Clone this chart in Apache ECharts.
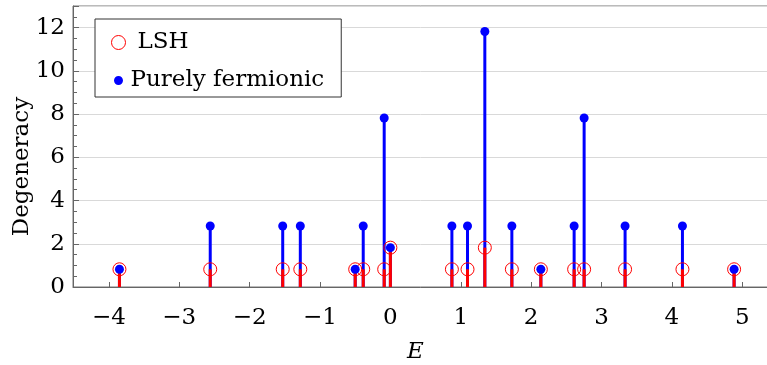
<!DOCTYPE html>
<html>
<head>
<meta charset="utf-8">
<script src="https://cdn.jsdelivr.net/npm/echarts@6/dist/echarts.min.js"></script>
<style>html,body{margin:0;padding:0;background:#fff}#c{width:767px;height:365px}</style>
</head>
<body>
<div id="c"></div>
<script>
var energies = [-3.85, -2.56, -1.53, -1.28, -0.50, -0.386, -0.088, 0.00, 0.874, 1.096, 1.342, 1.726, 2.138, 2.611, 2.753, 3.335, 4.15, 4.884];
var fermionic = [0.82, 2.82, 2.82, 2.82, 0.82, 2.82, 7.82, 1.82, 2.82, 2.82, 11.82, 2.82, 0.82, 2.82, 7.82, 2.82, 2.82, 0.82];
var lsh = [0.82, 0.82, 0.82, 0.82, 0.82, 0.82, 0.82, 1.82, 0.82, 0.82, 1.82, 0.82, 0.82, 0.82, 0.82, 0.82, 0.82, 0.82];
var xTicks = [-4, -3, -2, -1, 0, 1, 2, 3, 4, 5];
var yTickLabels = [0, 2, 4, 6, 8, 10, 12];

var FONT = 'DejaVu Serif';
var ferData = energies.map(function (e, i) { return [e, fermionic[i]]; });
var lshData = energies.map(function (e, i) { return [e, lsh[i]]; });

function stem(color) {
  return function (params, api) {
    var x = api.value(0), y = api.value(1);
    var p0 = api.coord([x, 0]);
    var p1 = api.coord([x, y]);
    return {
      type: 'line',
      shape: { x1: p0[0], y1: p0[1], x2: p1[0], y2: p1[1] },
      style: { stroke: color, lineWidth: 3 }
    };
  };
}

var chart = echarts.init(document.getElementById('c'), null, { renderer: 'canvas' });
chart.setOption({
  animation: false,
  backgroundColor: '#fff',
  textStyle: { fontFamily: FONT },
  grid: { left: 73, right: -2, top: 6, bottom: 78, containLabel: false, outerBoundsMode: 'none',
          show: true, borderColor: '#777', borderWidth: 1, backgroundColor: 'transparent' },
  legend: {
    left: 95, top: 19, orient: 'vertical',
    backgroundColor: '#fff', borderColor: '#333', borderWidth: 1, borderRadius: 0,
    padding: [12, 17, 5, 16],
    itemWidth: 14, itemHeight: 14, itemGap: 15,
    textStyle: { fontFamily: FONT, fontSize: 23, color: '#000', lineHeight: 23 },
    data: [
      { name: 'LSH', icon: 'circle', itemStyle: { color: 'rgba(0,0,0,0)', borderColor: '#ff0000', borderWidth: 1 },
        textStyle: { padding: [0, 0, 0, 7] } },
      { name: 'Purely fermionic', icon: 'path://M0,0L0.001,0ZM14,14L13.999,14ZM7,2.5C9.485,2.5,11.5,4.515,11.5,7C11.5,9.485,9.485,11.5,7,11.5C4.515,11.5,2.5,9.485,2.5,7C2.5,4.515,4.515,2.5,7,2.5Z',
        itemStyle: { color: '#0000ff', borderWidth: 0 } }
    ]
  },
  xAxis: {
    type: 'value', min: -4.51, max: 5.38,
    name: 'E', nameLocation: 'middle', nameGap: 54, nameMoveOverlap: false,
    nameTextStyle: { fontFamily: FONT, fontSize: 23, fontStyle: 'italic', color: '#000', padding: [0, 11, 0, 0] },
    axisLine: { show: true, onZero: false, lineStyle: { color: '#666', width: 1 } },
    axisTick: { show: true, inside: true, length: 5, customValues: xTicks, lineStyle: { color: '#666' } },
    axisLabel: { customValues: xTicks, margin: 20, fontFamily: FONT, fontSize: 23, color: '#000',
      formatter: function (v) { return v < 0 ? '\u2212' + Math.abs(v) : String(v); } },
    splitLine: { show: false }
  },
  yAxis: [
    {
      type: 'value', min: 0, max: 13, interval: 2, position: 'left',
      name: 'Degeneracy', nameLocation: 'middle', nameRotate: 90, nameGap: 39, nameMoveOverlap: false,
      nameTextStyle: { fontFamily: FONT, fontSize: 23, color: '#000', padding: [0, 40, 0, 0] },
      axisLine: { show: true, onZero: false, lineStyle: { color: '#666', width: 1 } },
      axisTick: { show: true, inside: true, length: 6, lineStyle: { color: '#666' } },
      axisLabel: { customValues: yTickLabels, margin: 8, fontFamily: FONT, fontSize: 23, color: '#000' },
      splitLine: { show: true, lineStyle: { color: '#d9d9d9', width: 1 } }
    },
    {
      type: 'value', min: 0, max: 13, interval: 0.5, position: 'left',
      axisLine: { show: false, onZero: false },
      axisTick: { show: true, inside: true, length: 4, lineStyle: { color: '#666' } },
      axisLabel: { show: false },
      splitLine: { show: false }
    }
  ],
  series: [
    { type: 'custom', name: 'fstem', renderItem: stem('#0000ff'), data: ferData, silent: true, z: 2 },
    { type: 'custom', name: 'lstem', renderItem: stem('#ff0000'), data: lshData, silent: true, z: 3 },
    { type: 'scatter', name: 'LSH', data: lshData, symbol: 'circle', symbolSize: 13, z: 4,
      itemStyle: { color: 'rgba(0,0,0,0)', borderColor: '#ff0000', borderWidth: 1, opacity: 1 } },
    { type: 'scatter', name: 'Purely fermionic', data: ferData, symbol: 'circle', symbolSize: 9, z: 5,
      itemStyle: { color: '#0000ff', opacity: 1 } }
  ]
});
</script>
</body>
</html>
